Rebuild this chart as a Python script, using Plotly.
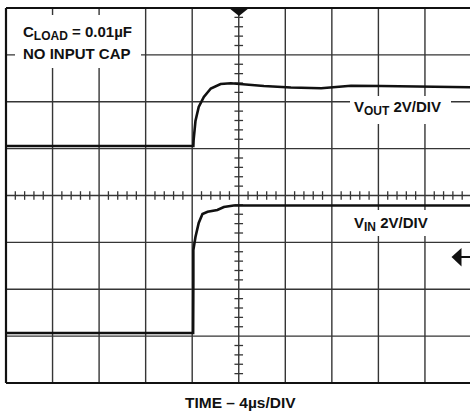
import plotly.graph_objects as go

# ---- data (time in microseconds, trace position in screen divisions; 2V/DIV) ----
vout_time_us = [0, 16.1, 16.12, 16.2, 16.28, 16.56, 17.0, 17.6, 18.44, 19.32, 20.0,
                21.04, 22.16, 24.48, 27.08, 28.36, 29.64, 32.24, 35.68, 40]
vout_div = [5.056, 5.056, 5.184, 5.397, 5.589, 5.888, 6.101, 6.283, 6.379, 6.394, 6.379,
            6.357, 6.336, 6.304, 6.287, 6.315, 6.34, 6.336, 6.325, 6.31]

vin_time_us = [0, 16.08, 16.1, 16.1, 16.28, 16.56, 16.88, 17.32, 18.16, 18.72, 19.56, 21.04, 40]
vin_div = [1.067, 1.067, 2.197, 2.837, 3.115, 3.413, 3.605, 3.654, 3.691, 3.755, 3.787, 3.787, 3.787]

SUB = '<sub><span style="font-size:12px">{}</span></sub>'
label_load = "<b>C" + SUB.format("LOAD") + " = 0.01µF</b>"
label_cap = "<b>NO INPUT CAP</b>"
label_vout = "<b>V" + SUB.format("OUT") + " 2V/DIV</b>"
label_vin = "<b>V" + SUB.format("IN") + " 2V/DIV</b>"
label_time = "<b>TIME – 4µs/DIV</b>"

US_PER_DIV = 4
N_XDIV, N_YDIV = 10, 8

W, H = 470, 414
ML, MR, MT, MB = 6, 0, 8, 31
PW, PH = W - ML - MR, H - MT - MB
X_MAX = N_XDIV * US_PER_DIV * PW / (PW + 1.5)  # screen edge just short of the last line


def px_x(px):
    return (px - ML) / PW * X_MAX


def px_y(py):
    return (H - MB - py) / PH * N_YDIV


FONT = "Arial, Liberation Sans, Helvetica, sans-serif"
GRID = "#353535"
EDGE = "#111"

fig = go.Figure()
fig.add_trace(go.Scatter(x=vout_time_us, y=vout_div, mode="lines",
                         line=dict(color="#111", width=2.6), hoverinfo="skip"))
fig.add_trace(go.Scatter(x=vin_time_us, y=vin_div, mode="lines",
                         line=dict(color="#111", width=2.6), hoverinfo="skip"))

shapes = []
# graticule lines drawn explicitly (none at the clipped right edge)
for k in range(1, N_XDIV):
    x = k * US_PER_DIV
    shapes.append(dict(type="line", x0=x, x1=x, y0=0, y1=N_YDIV,
                       line=dict(color=GRID, width=1.4), layer="between"))
for k in range(1, N_YDIV):
    shapes.append(dict(type="line", x0=0, x1=X_MAX, y0=k, y1=k,
                       line=dict(color=GRID, width=1.4), layer="between"))
# screen border: top, bottom, left
shapes.append(dict(type="line", xref="paper", yref="paper", x0=0, x1=1, y0=0, y1=0,
                   line=dict(color=EDGE, width=2.2), layer="above"))
shapes.append(dict(type="line", xref="paper", yref="paper", x0=0, x1=1, y0=1, y1=1,
                   line=dict(color=EDGE, width=2.2), layer="above"))
shapes.append(dict(type="line", xref="paper", yref="paper", x0=0, x1=0, y0=0, y1=1,
                   line=dict(color=EDGE, width=2.2), layer="above"))
# minor ticks on centre axes
cx, cy = N_XDIV / 2 * US_PER_DIV, N_YDIV / 2
tx = 4.3 / PW * X_MAX
ty = 4.3 / PH * N_YDIV
for k in range(1, N_XDIV * 5):
    if k % 5:
        x = k * 0.2 * US_PER_DIV
        shapes.append(dict(type="line", x0=x, x1=x, y0=cy - ty, y1=cy + ty,
                           line=dict(color=GRID, width=1.3), layer="between"))
for k in range(1, N_YDIV * 5):
    if k % 5:
        y = k * 0.2
        shapes.append(dict(type="line", x0=cx - tx, x1=cx + tx, y0=y, y1=y,
                           line=dict(color=GRID, width=1.3), layer="between"))

# white label backgrounds
for (x0, x1, y0, y1) in [(15, 141, 15, 68), (350, 451, 96, 124), (348, 433, 210, 236)]:
    shapes.append(dict(type="rect", x0=px_x(x0), x1=px_x(x1), y0=px_y(y1), y1=px_y(y0),
                       fillcolor="white", line=dict(width=0), layer="between"))

# trigger marker (top) and ground arrow (right)
def path(pts):
    return "M " + " L ".join(f"{px_x(a)},{px_y(b)}" for a, b in pts) + " Z"

shapes.append(dict(type="path", path=path([(229, 8), (249, 8), (239, 16)]),
                   fillcolor="#111", line=dict(width=0), layer="above"))
shapes.append(dict(type="path", path=path([(451.5, 257), (461.5, 248), (461.5, 266.5)]),
                   fillcolor="#111", line=dict(width=0), layer="above"))
shapes.append(dict(type="line", x0=px_x(460), x1=px_x(470), y0=px_y(257), y1=px_y(257),
                   line=dict(color="#111", width=2), layer="above"))

annotations = [
    dict(text=label_load, x=px_x(21), y=px_y(33), xanchor="left", yanchor="middle"),
    dict(text=label_cap, x=px_x(21), y=px_y(53), xanchor="left", yanchor="middle"),
    dict(text=label_vout, x=px_x(352), y=px_y(108), xanchor="left", yanchor="middle"),
    dict(text=label_vin, x=px_x(352), y=px_y(224), xanchor="left", yanchor="middle"),
]
for a in annotations:
    a.update(xref="x", yref="y", showarrow=False, font=dict(family=FONT, size=15, color="#111"))
annotations.append(dict(text=label_time, xref="paper", yref="paper", x=(240 - ML) / PW, y=0,
                        yshift=-(402 - (H - MB)), xanchor="center", yanchor="middle",
                        showarrow=False, font=dict(family=FONT, size=15.5, color="#111")))

fig.update_layout(
    width=W, height=H, margin=dict(l=ML, r=MR, t=MT, b=MB),
    paper_bgcolor="white", plot_bgcolor="white", showlegend=False,
    shapes=shapes, annotations=annotations,
    xaxis=dict(range=[0, X_MAX], visible=False, showgrid=False, zeroline=False, fixedrange=True),
    yaxis=dict(range=[0, N_YDIV], visible=False, showgrid=False, zeroline=False, fixedrange=True),
)

fig.write_html("out.html", config={"displayModeBar": False},
               post_script="document.documentElement.style.overflow='hidden';"
                           "document.body.style.overflow='hidden';"
                           "document.body.style.margin='0';document.body.style.padding='0';")
